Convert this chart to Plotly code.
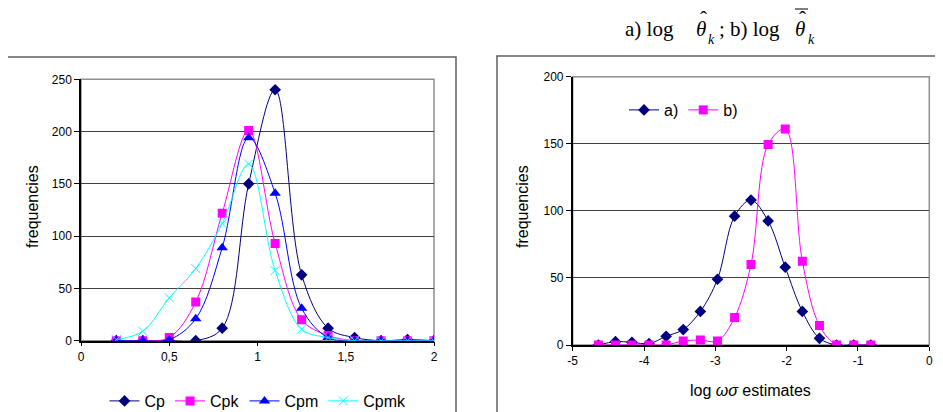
import plotly.graph_objects as go

# ---------------- data: left chart ----------------
cap_x = [0.2, 0.35, 0.5, 0.65, 0.8, 0.95, 1.1, 1.25, 1.4, 1.55, 1.7, 1.85, 2.0]
cp_vals   = [0, 0, 0, 0, 12, 150, 240, 63, 12, 3, 0, 1, 0]
cpk_vals  = [0, 0, 3, 37, 122, 201, 93, 20, 5, 0, 0, 0, 0]
cpm_vals  = [0, 0, 1, 21, 89, 194, 141, 31, 3, 0, 0, 0, 0]
cpmk_vals = [1, 9, 41, 69, 112, 169, 67, 11, 3, 0, 0, 0, 0]
left_xtick_vals = [0, 0.5, 1, 1.5, 2]

# ---------------- data: right chart ----------------
log_x = [-4.64, -4.40, -4.17, -3.93, -3.69, -3.45, -3.21, -2.97, -2.73,
         -2.50, -2.26, -2.02, -1.78, -1.54, -1.30, -1.06, -0.82]
a_vals = [0, 2.5, 2, 1, 6.5, 11.5, 25, 49, 96, 108, 92.5, 58, 25, 5, 0, 0, 0]
b_vals = [0, 0, 0, 0, 0, 3, 3.7, 3, 20.5, 60, 149.5, 161, 62.5, 14.5, 0, 0, 0]
right_xtick_vals = [-5, -4, -3, -2, -1, 0]
right_xtick_text = ["-5", "-4", "-3", "-2", "-1", "0"]

W, H = 943, 412
OFF = 8  # page body margin offset
def px(x): return (x - OFF) / W
def py(y): return 1 - (y - OFF) / H

FONT = "Liberation Sans, Arial, sans-serif"
SERIF = "Liberation Serif, Times New Roman, serif"
NAVY, MAG, BLUE, CYAN = "#000080", "#FF00FF", "#0000FF", "#00FFFF"

fig = go.Figure()

def add(x, y, name, color, symbol, size, xa, ya, legend, mline=None):
    fig.add_trace(go.Scatter(
        x=x, y=y, name=name, mode="lines+markers",
        line=dict(color=color, width=1, shape="spline", smoothing=1.0),
        marker=dict(symbol=symbol, size=size, color=color,
                    line=dict(color=color, width=mline if mline else 0)),
        xaxis=xa, yaxis=ya, legend=legend))

add(cap_x, cp_vals, "Cp", NAVY, "diamond", 9, "x", "y", "legend")
add(cap_x, cpk_vals, "Cpk", MAG, "square", 9, "x", "y", "legend")
add(cap_x, cpm_vals, "Cpm", BLUE, "triangle-up", 10, "x", "y", "legend")
add(cap_x, cpmk_vals, "Cpmk", CYAN, "x-thin", 9, "x", "y", "legend", mline=1)

add(log_x, a_vals, "a)", NAVY, "diamond", 9, "x2", "y2", "legend2")
add(log_x, b_vals, "b)", MAG, "square", 9, "x2", "y2", "legend2")

grid = "#404040"
axis_common = dict(showgrid=False, zeroline=False, showline=True, linecolor="black",
                   linewidth=1.5, ticks="outside", ticklen=4, tickcolor="black",
                   automargin=False,
                   tickfont=dict(family=FONT, size=12, color="black"))
yaxis_common = dict(showgrid=True, gridcolor=grid, gridwidth=1, zeroline=False,
                    showline=True, linecolor="black", linewidth=1.5, ticks="outside",
                    ticklen=5, tickcolor="black", automargin=False,
                    tickfont=dict(family=FONT, size=12, color="black"))

fig.update_layout(
    width=W, height=H, margin=dict(l=0, r=0, t=0, b=0, autoexpand=False),
    paper_bgcolor="white", plot_bgcolor="white",
    separators=", ",
    font=dict(family=FONT, color="black"),
    xaxis=dict(domain=[px(81), px(434)], range=[0, 2], tickvals=left_xtick_vals,
               anchor="y", **axis_common),
    yaxis=dict(domain=[py(340.7), py(79.3)], range=[0, 250], dtick=50,
               anchor="x", **yaxis_common),
    xaxis2=dict(domain=[px(572.7), px(929.3)], range=[-5, 0], tickvals=right_xtick_vals,
                ticktext=right_xtick_text, anchor="y2", **axis_common),
    yaxis2=dict(domain=[py(345), py(76.7)], range=[0, 200], dtick=50,
                anchor="x2", **yaxis_common),
    legend=dict(orientation="h", x=px(258), xanchor="center", y=py(401), yanchor="middle",
                font=dict(family=FONT, size=16, color="black"), bgcolor="rgba(0,0,0,0)",
                itemwidth=30, tracegroupgap=0),
    legend2=dict(orientation="h", x=px(624), xanchor="left", y=py(110), yanchor="middle",
                 font=dict(family=FONT, size=16, color="black"), bgcolor="rgba(0,0,0,0)",
                 itemwidth=30),
    showlegend=True,
)

shapes = []
# outer chart boxes
shapes.append(dict(type="rect", xref="paper", yref="paper", x0=px(5), x1=px(456),
                   y0=py(430), y1=py(57), line=dict(color="#606060", width=1.5)))
shapes.append(dict(type="rect", xref="paper", yref="paper", x0=px(497), x1=px(970),
                   y0=py(430), y1=py(56), line=dict(color="#606060", width=1.5)))
# plot area borders
shapes.append(dict(type="rect", xref="paper", yref="paper", x0=px(81), x1=px(434),
                   y0=py(340.7), y1=py(79.3), line=dict(color="#909090", width=1.5),
                   layer="below"))
shapes.append(dict(type="rect", xref="paper", yref="paper", x0=px(572.7), x1=px(929.3),
                   y0=py(345), y1=py(76.7), line=dict(color="#909090", width=1.5),
                   layer="below"))
# overbar of the b) theta
shapes.append(dict(type="line", xref="paper", yref="paper", x0=px(795), x1=px(808),
                   y0=py(9), y1=py(9), line=dict(color="black", width=1)))
fig.update_layout(shapes=shapes)

ann = []
def note(text, x, y, size, family=FONT, xanchor="center", angle=0):
    ann.append(dict(text=text, x=px(x), y=py(y), xref="paper", yref="paper",
                    xanchor=xanchor, yanchor="middle", textangle=angle, showarrow=False,
                    font=dict(family=family, size=size, color="black")))

note("frequencies", 32, 207, 16, angle=-90)
note("frequencies", 522, 207, 16, angle=-90)
note("log <i>ωσ</i> estimates", 750, 390, 16)

# title: a) log θ̂_k ; b) log θ̄̂_k  (built from pieces)
note("a) log", 623, 29, 21, SERIF, xanchor="left")
note("<i>θ</i>", 701, 29, 21, SERIF)
note("ˆ", 703, 19, 21, SERIF)
note("<i>k</i>", 711, 40, 14, SERIF)
note(";", 722, 29, 21, SERIF)
note("b) log", 728, 29, 21, SERIF, xanchor="left")
note("<i>θ</i>", 800, 29, 21, SERIF)
note("ˆ", 802, 19, 21, SERIF)
note("<i>k</i>", 811, 40, 14, SERIF)
fig.update_layout(annotations=ann)

fig.write_html("out.html")
